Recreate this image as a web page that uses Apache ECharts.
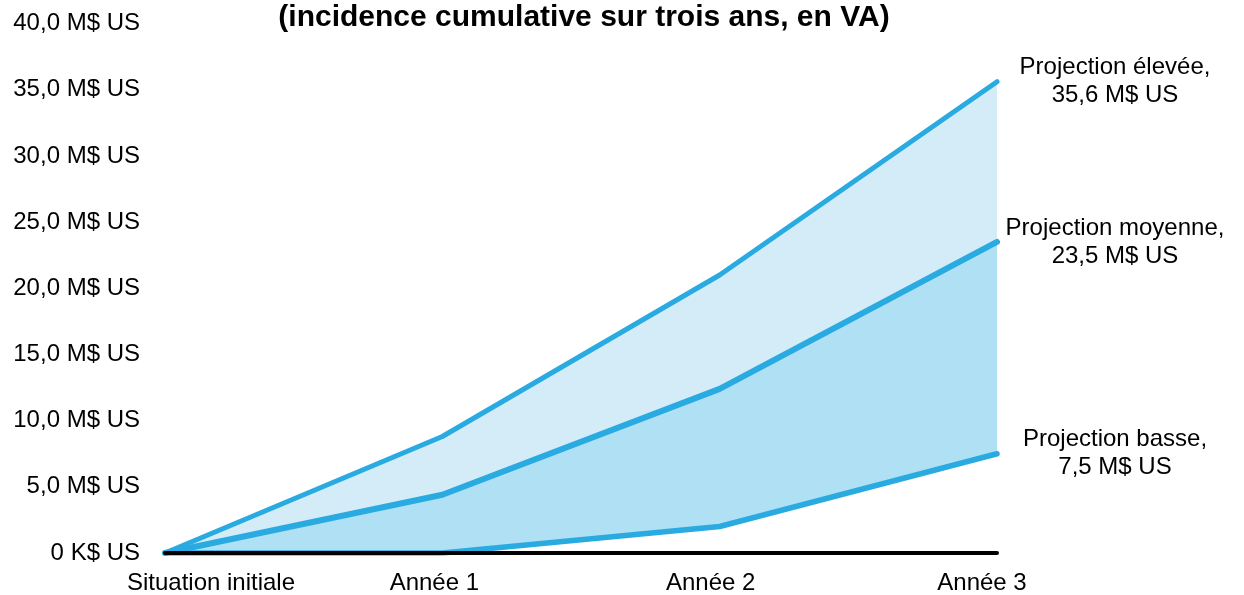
<!DOCTYPE html>
<html>
<head>
<meta charset="utf-8">
<script src="https://cdn.jsdelivr.net/npm/echarts@6/dist/echarts.min.js"></script>
<style>
  html, body { margin: 0; padding: 0; background: #fff; }
  #chart { width: 1244px; height: 595px; }
</style>
</head>
<body>
<div id="chart"></div>
<script>
  // valeurs (M$ US, cumulatif)
  var categories = ['Situation initiale', 'Année 1', 'Année 2', 'Année 3']
  var projHaute = [0, 8.8, 21.0, 35.6]
  var projMoyenne = [0, 4.4, 12.4, 23.5]
  var projBasse = [0, 0, 2.0, 7.5]
  var yLabels = ['0 K$ US', '5,0 M$ US', '10,0 M$ US', '15,0 M$ US', '20,0 M$ US',
    '25,0 M$ US', '30,0 M$ US', '35,0 M$ US', '40,0 M$ US']
  var endLabels = ['Projection élevée,\n35,6 M$ US', 'Projection moyenne,\n23,5 M$ US', 'Projection basse,\n7,5 M$ US']

  var FONT = 'Liberation Sans, Arial, sans-serif'
  var BLEU = '#29abe2'
  var FS = 24

  // petit décalage des étiquettes d'abscisse comme dans l'original
  var xPad = [[0, 0, 0, 92], [0, 16, 0, 0], [0, 18, 0, 0], [0, 30, 0, 0]]
  var xRich = {}
  xPad.forEach(function (p, i) {
    xRich['s' + i] = { padding: p, fontSize: FS, fontFamily: FONT, color: '#000' }
  })

  function area(data, color) {
    return {
      type: 'line',
      data: data,
      symbol: 'none',
      silent: true,
      lineStyle: { width: 0 },
      areaStyle: { color: color, opacity: 1 },
      z: 1
    }
  }

  function ligne(data, width, label) {
    return {
      type: 'line',
      data: data,
      symbol: 'none',
      lineStyle: { color: BLEU, width: width, join: 'round', cap: 'round' },
      z: 3,
      endLabel: {
        show: true,
        formatter: label,
        distance: 118,
        align: 'center',
        fontSize: FS,
        lineHeight: 28,
        fontFamily: FONT,
        color: '#000'
      }
    }
  }

  var chart = echarts.init(document.getElementById('chart'))
  chart.setOption({
    animation: false,
    backgroundColor: '#fff',
    title: {
      text: '(incidence cumulative sur trois ans, en VA)',
      left: 579,
      textAlign: 'center',
      top: -2,
      textStyle: { fontSize: 30, fontWeight: 'bold', fontFamily: FONT, color: '#000' }
    },
    grid: { left: 165, right: 247, top: 23.5, bottom: 42 },
    xAxis: {
      type: 'category',
      data: categories,
      boundaryGap: false,
      z: 5,
      axisLine: { lineStyle: { color: '#000', width: 4 } },
      axisTick: { show: false },
      axisLabel: {
        margin: 18,
        formatter: function (v, i) { return '{s' + i + '|' + v + '}' },
        rich: xRich
      }
    },
    yAxis: {
      type: 'value',
      min: 0,
      max: 40,
      interval: 5,
      axisLine: { show: false },
      axisTick: { show: false },
      splitLine: { show: false },
      axisLabel: {
        margin: 25,
        fontSize: FS,
        fontFamily: FONT,
        color: '#000',
        formatter: function (v, i) { return yLabels[i] }
      }
    },
    series: [
      area(projHaute, '#d4ecf8'),
      area(projMoyenne, '#afe0f4'),
      area(projBasse, '#ffffff'),
      ligne(projHaute, 5, endLabels[0]),
      ligne(projMoyenne, 6, endLabels[1]),
      ligne(projBasse, 5.5, endLabels[2])
    ]
  })
</script>
</body>
</html>
